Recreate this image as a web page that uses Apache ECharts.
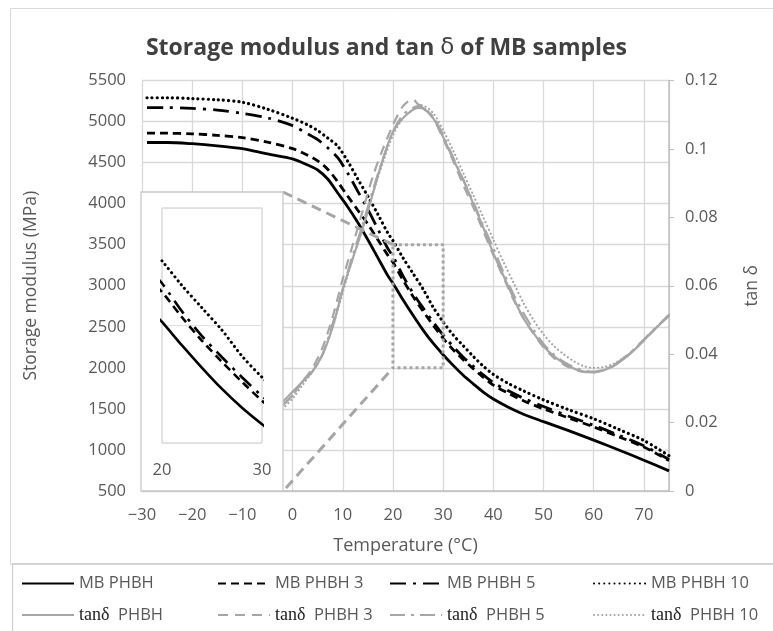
<!DOCTYPE html>
<html>
<head>
<meta charset="utf-8">
<script src="https://cdn.jsdelivr.net/npm/echarts@6/dist/echarts.min.js"></script>
<style>
  html, body { margin: 0; padding: 0; background: #ffffff; }
  #chart { width: 773px; height: 631px; }
</style>
</head>
<body>
<div id="chart"></div>
<script>
// ---------- data ----------
const tempsMB = [-29, -25, -20, -15, -10, -5, 0, 3, 5, 7, 9, 11, 13, 15, 17, 19, 20, 22, 24, 26, 28, 30, 32, 34, 36, 38, 40, 43, 46, 50, 55, 60, 65, 70, 75];
const mbPHBH   = [4745, 4745, 4730, 4705, 4670, 4605, 4545, 4470, 4410, 4300, 4130, 3960, 3770, 3560, 3340, 3120, 3030, 2830, 2640, 2460, 2300, 2160, 2030, 1910, 1805, 1705, 1620, 1520, 1435, 1345, 1235, 1120, 1000, 875, 745];
const mbPHBH3  = [4860, 4858, 4850, 4832, 4805, 4750, 4670, 4590, 4520, 4420, 4265, 4090, 3920, 3750, 3560, 3370, 3285, 3070, 2870, 2690, 2520, 2360, 2220, 2100, 1990, 1885, 1790, 1690, 1600, 1500, 1390, 1280, 1160, 1035, 870];
const mbPHBH5  = [5170, 5170, 5160, 5140, 5100, 5045, 4950, 4850, 4780, 4680, 4560, 4370, 4150, 3930, 3690, 3450, 3360, 3120, 2910, 2730, 2560, 2400, 2260, 2130, 2020, 1915, 1820, 1720, 1630, 1530, 1410, 1300, 1180, 1050, 885];
const mbPHBH10 = [5290, 5290, 5280, 5265, 5235, 5150, 5040, 4960, 4890, 4800, 4700, 4515, 4300, 4090, 3870, 3640, 3550, 3340, 3150, 2960, 2740, 2560, 2400, 2270, 2140, 2020, 1920, 1810, 1720, 1610, 1490, 1380, 1250, 1115, 930];

const tempsTan = [-2, 0, 2, 4, 6, 8, 10, 12, 14, 16, 18, 20, 22, 24, 25, 26, 28, 30, 32, 34, 36, 38, 40, 42, 44, 46, 48, 50, 52, 54, 56, 58, 60, 62, 64, 66, 68, 70, 72, 75];
const tanPHBH   = [0.026, 0.029, 0.032, 0.035, 0.040, 0.048, 0.059, 0.068, 0.077, 0.087, 0.097, 0.105, 0.109, 0.1115, 0.112, 0.1118, 0.109, 0.1035, 0.097, 0.091, 0.084, 0.077, 0.0695, 0.063, 0.0565, 0.0505, 0.0462, 0.0423, 0.0395, 0.0374, 0.0358, 0.0349, 0.0347, 0.0353, 0.0366, 0.0386, 0.0411, 0.0441, 0.0471, 0.0512];
const tanPHBH3  = [0.025, 0.028, 0.032, 0.036, 0.042, 0.051, 0.062, 0.072, 0.082, 0.092, 0.100, 0.107, 0.1125, 0.1145, 0.113, 0.1125, 0.109, 0.103, 0.0965, 0.0895, 0.083, 0.076, 0.069, 0.0625, 0.056, 0.0505, 0.046, 0.042, 0.039, 0.037, 0.0356, 0.0348, 0.0347, 0.0353, 0.0366, 0.0387, 0.0412, 0.044, 0.047, 0.0515];
const tanPHBH5  = [0.025, 0.028, 0.032, 0.035, 0.040, 0.049, 0.059, 0.069, 0.078, 0.088, 0.097, 0.105, 0.110, 0.112, 0.1125, 0.112, 0.1095, 0.104, 0.0975, 0.091, 0.0845, 0.0775, 0.071, 0.064, 0.0575, 0.052, 0.0472, 0.043, 0.040, 0.0378, 0.0362, 0.0352, 0.0349, 0.0355, 0.0368, 0.0389, 0.0414, 0.0443, 0.0472, 0.0515];
const tanPHBH10 = [0.024, 0.027, 0.031, 0.035, 0.040, 0.048, 0.058, 0.068, 0.077, 0.087, 0.096, 0.104, 0.109, 0.1115, 0.112, 0.1125, 0.1105, 0.1055, 0.0995, 0.093, 0.0865, 0.080, 0.0735, 0.067, 0.061, 0.055, 0.050, 0.0458, 0.0425, 0.040, 0.038, 0.0365, 0.036, 0.0362, 0.0372, 0.039, 0.0413, 0.0442, 0.0472, 0.0515];

// zoom window drawn on the main chart and the inset's ranges
const zoomX = [20, 30];
const zoomY = [2000, 3500];
const insetY = [2000, 4000];

const mbNames  = ['MB PHBH', 'MB PHBH 3', 'MB PHBH 5', 'MB PHBH 10'];
const tanNames = ['tanδ PHBH', 'tanδ PHBH 3', 'tanδ PHBH 5', 'tanδ PHBH 10'];

// ---------- styles ----------
const FONT = 'Open Sans';
const TXT = '#595959';
const GRID = '#d9d9d9';
const GRAY = '#a6a6a6';
const dashStyles = ['solid', [8, 5], [16, 7, 3, 7], [0.1, 5]];
const tanDash = ['solid', [10, 7], [15, 6, 3, 6], [0.1, 4]];
const caps = ['butt', 'butt', 'butt', 'round'];

function pairs(xs, ys) { return xs.map((x, i) => [x, ys[i]]); }
const mbSets = [mbPHBH, mbPHBH3, mbPHBH5, mbPHBH10];
const tanSets = [tanPHBH, tanPHBH3, tanPHBH5, tanPHBH10];

const series = [];
mbSets.forEach((d, i) => {
  series.push({
    name: mbNames[i], type: 'line', xAxisIndex: 0, yAxisIndex: 0,
    data: pairs(tempsMB, d), symbol: 'none', smooth: 0.3, z: 3,
    lineStyle: { color: '#000', width: i === 3 ? 3.2 : 2.8, type: dashStyles[i], cap: caps[i] },
    itemStyle: { color: '#000' }
  });
});
tanSets.forEach((d, i) => {
  series.push({
    name: tanNames[i], type: 'line', xAxisIndex: 0, yAxisIndex: 1,
    data: pairs(tempsTan, d), symbol: 'none', smooth: 0.3, z: 3,
    lineStyle: { color: GRAY, width: i === 3 ? 2.2 : 2.2, type: tanDash[i], cap: caps[i] },
    itemStyle: { color: GRAY }
  });
});
// inset copies
mbSets.forEach((d, i) => {
  series.push({
    name: mbNames[i], type: 'line', xAxisIndex: 1, yAxisIndex: 2,
    data: pairs(tempsMB, d), symbol: 'none', smooth: 0.3, z: 13, clip: true,
    lineStyle: { color: '#000', width: i === 3 ? 3 : 2.6, type: dashStyles[i], cap: caps[i] },
    itemStyle: { color: '#000' }
  });
});
// zoom window rectangle
series.push({
  name: 'zoomRect', type: 'line', xAxisIndex: 0, yAxisIndex: 0, symbol: 'none', z: 4,
  data: [[zoomX[0], zoomY[1]], [zoomX[1], zoomY[1]], [zoomX[1], zoomY[0]], [zoomX[0], zoomY[0]], [zoomX[0], zoomY[1]]],
  lineStyle: { color: GRAY, width: 3, type: [3, 3] }, silent: true
});

function legendAt(name, left, top) {
  return {
    data: [name], left: left, top: top, itemWidth: 52, itemHeight: 14, itemGap: 0,
    textStyle: { fontFamily: FONT, fontSize: 16.5, color: TXT,
      rich: { t: { fontFamily: 'Liberation Serif', fontSize: 18, color: '#222' } } },
    itemStyle: { color: 'rgba(0,0,0,0)', borderColor: 'rgba(0,0,0,0)', borderWidth: 0 },
    formatter: function (n) {
      if (n.indexOf('tanδ') === 0) return '{t|tanδ}  ' + n.slice(5);
      return n;
    }
  };
}

const colLeft = [16, 212, 384, 588];
const legends = [];
mbNames.forEach((n, i) => legends.push(legendAt(n, colLeft[i], 570)));
tanNames.forEach((n, i) => legends.push(legendAt(n, colLeft[i], 601)));

const INSET = { left: 162, top: 208, width: 100, height: 235 };
const BOX = { x: 141, y: 192, w: 142, h: 299 };

const option = {
  animation: false,
  backgroundColor: '#fff',
  textStyle: { fontFamily: FONT },
  title: {
    text: '{a|Storage modulus and tan }{d|δ}{a| of MB samples}',
    left: 'center', top: 32,
    textStyle: { rich: {
      a: { fontFamily: FONT, fontSize: 23, fontWeight: 'bold', color: '#404040' },
      d: { fontFamily: 'DejaVu Sans', fontSize: 23, fontWeight: 'normal', color: '#404040' }
    } }
  },
  legend: legends,
  grid: [
    { left: 142, right: 104, top: 80.5, bottom: 140 },
    { left: INSET.left, top: INSET.top, width: INSET.width, height: INSET.height, show: true,
      borderColor: '#c8c8c8', borderWidth: 1, backgroundColor: 'rgba(0,0,0,0)', z: 11 }
  ],
  xAxis: [
    { type: 'value', gridIndex: 0, min: -30, max: 75, interval: 10,
      name: 'Temperature (°C)', nameLocation: 'middle', nameGap: 46,
      nameTextStyle: { fontFamily: FONT, fontSize: 18, color: TXT },
      axisLine: { show: true, lineStyle: { color: '#bfbfbf', width: 1.5 } },
      axisTick: { show: false },
      axisLabel: { fontFamily: FONT, fontSize: 16.5, color: TXT, margin: 16, showMaxLabel: false,
        formatter: v => (v < 0 ? '\u2212' + (-v) : '' + v) },
      splitLine: { show: true, lineStyle: { color: GRID, width: 1.3 } } },
    { type: 'value', gridIndex: 1, min: zoomX[0], max: zoomX[1], interval: 10, z: 11,
      axisLine: { show: false }, axisTick: { show: false },
      axisLabel: { fontFamily: FONT, fontSize: 16.5, color: TXT, margin: 19 },
      splitLine: { show: false } }
  ],
  yAxis: [
    { type: 'value', gridIndex: 0, min: 500, max: 5500, interval: 500,
      name: 'Storage modulus (MPa)', nameLocation: 'middle', nameGap: 102, nameRotate: 90,
      nameTextStyle: { fontFamily: FONT, fontSize: 17.5, color: TXT },
      axisLine: { show: false }, axisTick: { show: false },
      axisLabel: { fontFamily: FONT, fontSize: 16.5, color: TXT, margin: 16, formatter: v => String(v) },
      splitLine: { show: true, lineStyle: { color: GRID, width: 1.3 } } },
    { type: 'value', gridIndex: 0, position: 'right', min: 0, max: 0.12, interval: 0.02,
      name: 'tan δ', nameLocation: 'middle', nameGap: 74, nameRotate: 90,
      nameTextStyle: { fontFamily: FONT, fontSize: 17.5, color: TXT },
      axisLine: { show: true, lineStyle: { color: '#bfbfbf', width: 1.5 } },
      axisTick: { show: true, inside: false, length: 5, lineStyle: { color: '#bfbfbf' } },
      axisLabel: { fontFamily: FONT, fontSize: 16.5, color: TXT, margin: 16 },
      splitLine: { show: false } },
    { type: 'value', gridIndex: 1, min: insetY[0], max: insetY[1], interval: 1000, z: 11,
      axisLine: { show: false }, axisTick: { show: false }, axisLabel: { show: false },
      splitLine: { show: true, lineStyle: { color: '#e0e0e0', width: 1.2 } } }
  ],
  graphic: [
    { id: 'outer', type: 'rect', z: 0, silent: true,
      shape: { x: 10.5, y: 8.5, width: 770, height: 556 },
      style: { fill: 'rgba(0,0,0,0)', stroke: '#d9d9d9', lineWidth: 1 } },
    { id: 'legendBox', type: 'rect', z: 0, silent: true,
      shape: { x: 12.5, y: 563.5, width: 770, height: 80 },
      style: { fill: 'rgba(0,0,0,0)', stroke: '#cfcfcf', lineWidth: 1.2 } },
    { id: 'insetBox', type: 'rect', z: 10, silent: true,
      shape: { x: BOX.x, y: BOX.y, width: BOX.w, height: BOX.h },
      style: { fill: '#fff', stroke: '#c8c8c8', lineWidth: 1.3 } }
  ],
  series: series
};

const chart = echarts.init(document.getElementById('chart'), null, { renderer: 'canvas' });
chart.setOption(option);

// connector lines from the inset box to the zoom window
const pTop = chart.convertToPixel({ gridIndex: 0 }, [zoomX[0], zoomY[1]]);
const pBot = chart.convertToPixel({ gridIndex: 0 }, [zoomX[0], zoomY[0]]);
chart.setOption({
  graphic: [
    { id: 'conn1', type: 'line', z: 4, silent: true,
      shape: { x1: BOX.x + BOX.w, y1: BOX.y, x2: pTop[0], y2: pTop[1] },
      style: { stroke: GRAY, lineWidth: 3, lineDash: [10, 6] } },
    { id: 'conn2', type: 'line', z: 4, silent: true,
      shape: { x1: BOX.x + BOX.w + 3, y1: BOX.y + BOX.h - 3, x2: pBot[0], y2: pBot[1] },
      style: { stroke: GRAY, lineWidth: 3, lineDash: [10, 6] } }
  ]
});
</script>
</body>
</html>
